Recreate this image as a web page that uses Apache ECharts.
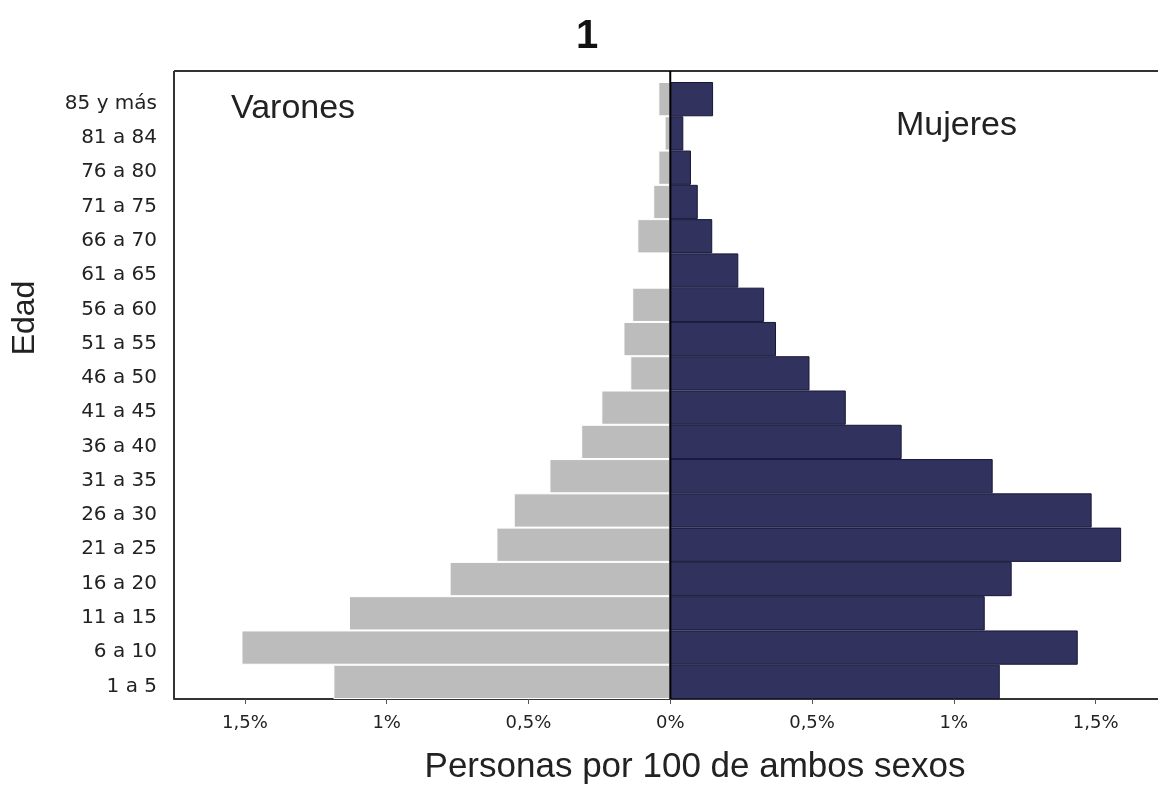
<!DOCTYPE html>
<html>
<head>
<meta charset="utf-8">
<script src="https://cdn.jsdelivr.net/npm/echarts@6/dist/echarts.min.js"></script>
<style>
  html, body { margin: 0; padding: 0; background: #fff; }
  #main { width: 1158px; height: 786px; }
</style>
</head>
<body>
<div id="main"></div>
<script>
// grupos de edad, de arriba hacia abajo
var edades = ['85 y más', '81 a 84', '76 a 80', '71 a 75', '66 a 70', '61 a 65', '56 a 60', '51 a 55', '46 a 50',
    '41 a 45', '36 a 40', '31 a 35', '26 a 30', '21 a 25', '16 a 20', '11 a 15', '6 a 10', '1 a 5'];
var varones = [0.042, 0.02, 0.042, 0.06, 0.116, 0.005, 0.134, 0.165, 0.141,
    0.243, 0.314, 0.426, 0.552, 0.613, 0.778, 1.133, 1.512, 1.188];
var mujeres = [0.151, 0.046, 0.073, 0.097, 0.148, 0.240, 0.331, 0.373, 0.491,
    0.619, 0.816, 1.137, 1.486, 1.59, 1.204, 1.109, 1.437, 1.162];
var ticks = [-1.5, -1, -0.5, 0, 0.5, 1, 1.5];

var font = '"Liberation Sans", Arial, sans-serif';
var fontAxis = '"DejaVu Sans", sans-serif';

function pct(v) {
    return String(Math.abs(v)).replace('.', ',') + '%';
}

var chart = echarts.init(document.getElementById('main'));

option = {
    backgroundColor: '#fff',
    animation: false,
    title: {
        text: '1',
        left: 571,
        top: 12,
        textStyle: {fontFamily: font, fontSize: 40, fontWeight: 'bold', color: '#111'}
    },
    grid: {
        left: 174,
        right: 0,
        top: 82,
        bottom: 87
    },
    xAxis: {
        type: 'value',
        min: -1.75,
        max: 1.72,
        splitLine: {show: false},
        axisLine: {show: true, lineStyle: {color: '#333', width: 2}},
        axisTick: {show: true, length: 5, customValues: ticks, lineStyle: {color: '#555'}},
        axisLabel: {
            customValues: ticks,
            formatter: pct,
            margin: 15,
            fontFamily: fontAxis,
            fontSize: 18,
            color: '#222'
        }
    },
    yAxis: {
        type: 'category',
        inverse: true,
        data: edades,
        axisLine: {show: false},
        axisTick: {show: false},
        axisLabel: {
            fontFamily: fontAxis,
            fontSize: 20,
            color: '#222',
            margin: 17,
            verticalAlign: 'top',
            lineHeight: 9
        }
    },
    series: [
        {
            name: 'Varones',
            type: 'bar',
            stack: 'p',
            barCategoryGap: '0%',
            data: varones.map(function (v) { return -v; }),
            itemStyle: {color: '#bcbcbc', borderColor: '#fff', borderWidth: 1}
        },
        {
            name: 'Mujeres',
            type: 'bar',
            stack: 'p',
            barCategoryGap: '0%',
            data: mujeres,
            itemStyle: {color: '#32325f', borderColor: '#16163a', borderWidth: 1}
        }
    ]
};
chart.setOption(option);

// marco, linea del cero y textos
var x0 = chart.convertToPixel({xAxisIndex: 0}, 0);
chart.setOption({
    graphic: [
        {type: 'line', shape: {x1: 174, y1: 71, x2: 1160, y2: 71}, style: {stroke: '#333', lineWidth: 2}},
        {type: 'line', shape: {x1: 174, y1: 71, x2: 174, y2: 699}, style: {stroke: '#333', lineWidth: 2}},
        {type: 'line', z: 10, shape: {x1: x0, y1: 71, x2: x0, y2: 699}, style: {stroke: '#000', lineWidth: 2}},
        {type: 'text', x: 231, y: 92, style: {text: 'Varones', fontFamily: font, fontSize: 34, fill: '#222'}},
        {type: 'text', x: 896, y: 109, style: {text: 'Mujeres', fontFamily: font, fontSize: 34, fill: '#222'}},
        {type: 'text', x: 695, y: 767, style: {text: 'Personas por 100 de ambos sexos', fontFamily: font, fontSize: 35, fill: '#222', align: 'center', verticalAlign: 'middle'}},
        {type: 'text', x: 25, y: 318, rotation: Math.PI / 2, style: {text: 'Edad', fontFamily: font, fontSize: 32, fill: '#222', align: 'center', verticalAlign: 'middle'}}
    ]
});
</script>
</body>
</html>
